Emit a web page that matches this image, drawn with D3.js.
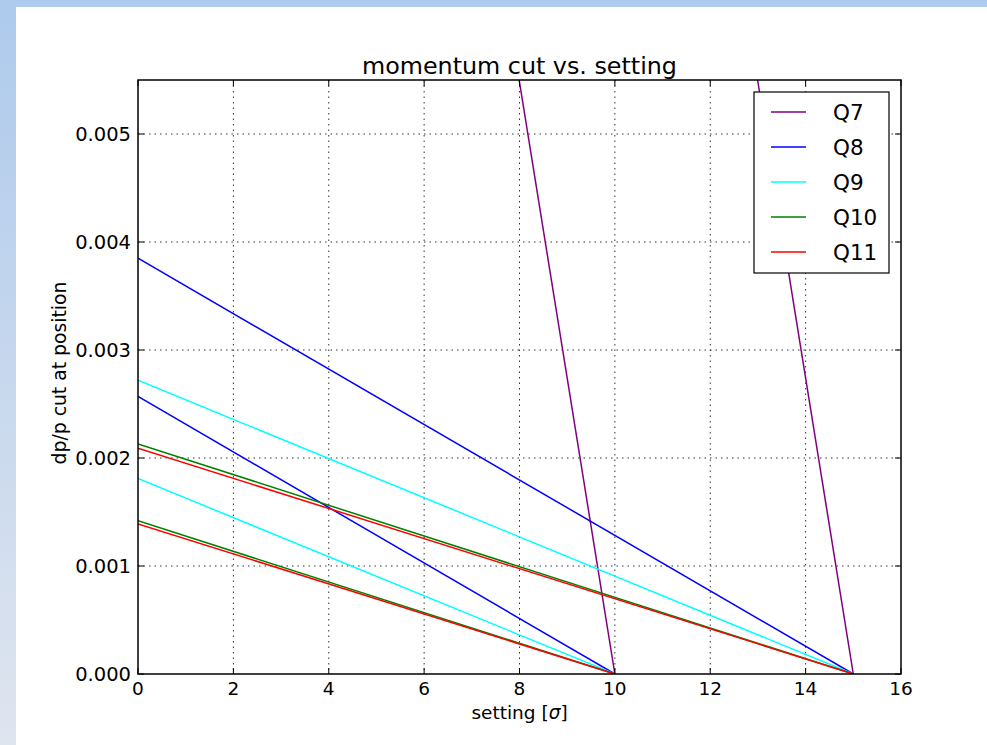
<!DOCTYPE html>
<html>
<head>
<meta charset="utf-8">
<script src="https://cdn.jsdelivr.net/npm/d3@7"></script>
<style>
  html, body { margin: 0; padding: 0; background: #fff; }
  svg { display: block; font-family: "DejaVu Sans", sans-serif; }
</style>
</head>
<body>
<svg id="chart" width="987" height="745"></svg>
<script>
// ── Data ──────────────────────────────────────────────────────────────────
const quads = ['Q7', 'Q8', 'Q9', 'Q10', 'Q11'];
const quadColors = ['#800080', '#0000ff', '#00ffff', '#008000', '#ff0000'];
// each quad has two lines: cut at setting 0, falling to zero at 10σ and 15σ
const zeroAt = [10, 15];
const cutAtZeroShort = [0.0274, 0.00257, 0.00181, 0.00142, 0.00139]; // reaches 0 at 10σ
const cutAtZeroLong = [0.0411, 0.00385, 0.00272, 0.00213, 0.00209];  // reaches 0 at 15σ
const xTicks = [0, 2, 4, 6, 8, 10, 12, 14, 16];
const yTicks = [0, 0.001, 0.002, 0.003, 0.004, 0.005];

(function () {
  const svg = d3.select('#chart');
  const W = 987, H = 745;
  const m = { left: 138, right: 901, top: 80, bottom: 674 };

  // ── Slide background bands ──
  const defs = svg.append('defs');
  const grad = defs.append('linearGradient').attr('id', 'sideGrad')
    .attr('x1', 0).attr('y1', 0).attr('x2', 0).attr('y2', 1);
  grad.append('stop').attr('offset', '0%').attr('stop-color', '#aecaec');
  grad.append('stop').attr('offset', '100%').attr('stop-color', '#dfe5ef');
  svg.append('rect').attr('x', 0).attr('y', 0).attr('width', 16).attr('height', H)
    .attr('fill', 'url(#sideGrad)');
  svg.append('rect').attr('x', 0).attr('y', 0).attr('width', W).attr('height', 7)
    .attr('fill', '#aecaec');

  defs.append('clipPath').attr('id', 'plotClip')
    .append('rect').attr('x', m.left).attr('y', m.top)
    .attr('width', m.right - m.left).attr('height', m.bottom - m.top);

  // ── Scales ──
  const x = d3.scaleLinear().domain([0, 16]).range([m.left, m.right]);
  const y = d3.scaleLinear().domain([0, 0.0055]).range([m.bottom, m.top]);

  // ── Grid ──
  const grid = svg.append('g').attr('stroke', '#000').attr('stroke-width', 0.8)
    .attr('stroke-dasharray', '1.5,4');
  grid.selectAll('line.gx').data(xTicks.slice(1, -1)).join('line')
    .attr('x1', d => x(d)).attr('x2', d => x(d)).attr('y1', m.top).attr('y2', m.bottom);
  grid.selectAll('line.gy').data(yTicks.slice(1)).join('line')
    .attr('x1', m.left).attr('x2', m.right).attr('y1', d => y(d)).attr('y2', d => y(d));

  // ── Lines ──
  const line = d3.line().x(d => x(d[0])).y(d => y(d[1]));
  const series = [];
  quads.forEach(function (q, i) {
    series.push({ color: quadColors[i], pts: [[0, cutAtZeroShort[i]], [zeroAt[0], 0]] });
    series.push({ color: quadColors[i], pts: [[0, cutAtZeroLong[i]], [zeroAt[1], 0]] });
  });
  svg.append('g').attr('clip-path', 'url(#plotClip)')
    .selectAll('path').data(series).join('path')
    .attr('d', d => line(d.pts))
    .attr('fill', 'none')
    .attr('stroke', d => d.color)
    .attr('stroke-width', 1.5);

  // ── Frame and inward ticks ──
  svg.append('rect').attr('x', m.left).attr('y', m.top)
    .attr('width', m.right - m.left).attr('height', m.bottom - m.top)
    .attr('fill', 'none').attr('stroke', '#000').attr('stroke-width', 1.5);

  const tl = 6;
  const ticks = svg.append('g').attr('stroke', '#000').attr('stroke-width', 1);
  xTicks.forEach(function (t) {
    ticks.append('line').attr('x1', x(t)).attr('x2', x(t)).attr('y1', m.bottom).attr('y2', m.bottom - tl);
    ticks.append('line').attr('x1', x(t)).attr('x2', x(t)).attr('y1', m.top).attr('y2', m.top + tl);
  });
  yTicks.forEach(function (t) {
    ticks.append('line').attr('x1', m.left).attr('x2', m.left + tl).attr('y1', y(t)).attr('y2', y(t));
    ticks.append('line').attr('x1', m.right).attr('x2', m.right - tl).attr('y1', y(t)).attr('y2', y(t));
  });

  // ── Tick labels ──
  svg.append('g').selectAll('text').data(xTicks).join('text')
    .attr('x', d => x(d)).attr('y', 695)
    .attr('text-anchor', 'middle').attr('font-size', 18.5)
    .text(d => d);
  svg.append('g').selectAll('text').data(yTicks).join('text')
    .attr('x', m.left - 7).attr('y', d => y(d) + 7)
    .attr('text-anchor', 'end').attr('font-size', 19.5)
    .text(d => d3.format('.3f')(d));

  // ── Titles ──
  svg.append('text').attr('x', (m.left + m.right) / 2).attr('y', 74)
    .attr('text-anchor', 'middle').attr('font-size', 23.8)
    .text('momentum cut vs. setting');

  const xl = svg.append('text').attr('x', (m.left + m.right) / 2).attr('y', 719)
    .attr('text-anchor', 'middle').attr('font-size', 18.5);
  xl.append('tspan').text('setting [');
  xl.append('tspan').attr('font-style', 'italic').text('σ');
  xl.append('tspan').text(']');

  svg.append('text').attr('transform', 'translate(66,' + ((m.top + m.bottom) / 2 - 4) + ') rotate(-90)')
    .attr('text-anchor', 'middle').attr('font-size', 18.8)
    .text('dp/p cut at position');

  // ── Legend ──
  const lg = svg.append('g');
  lg.append('rect').attr('x', 754).attr('y', 92).attr('width', 135).attr('height', 181)
    .attr('fill', '#fff').attr('stroke', '#000').attr('stroke-width', 1.2);
  quads.forEach(function (q, i) {
    const ry = 112 + i * 35;
    lg.append('line').attr('x1', 771).attr('x2', 806).attr('y1', ry).attr('y2', ry)
      .attr('stroke', quadColors[i]).attr('stroke-width', 1.5);
    lg.append('text').attr('x', 833).attr('y', ry + 8)
      .attr('font-size', 21.5).text(q);
  });
})();
</script>
</body>
</html>
